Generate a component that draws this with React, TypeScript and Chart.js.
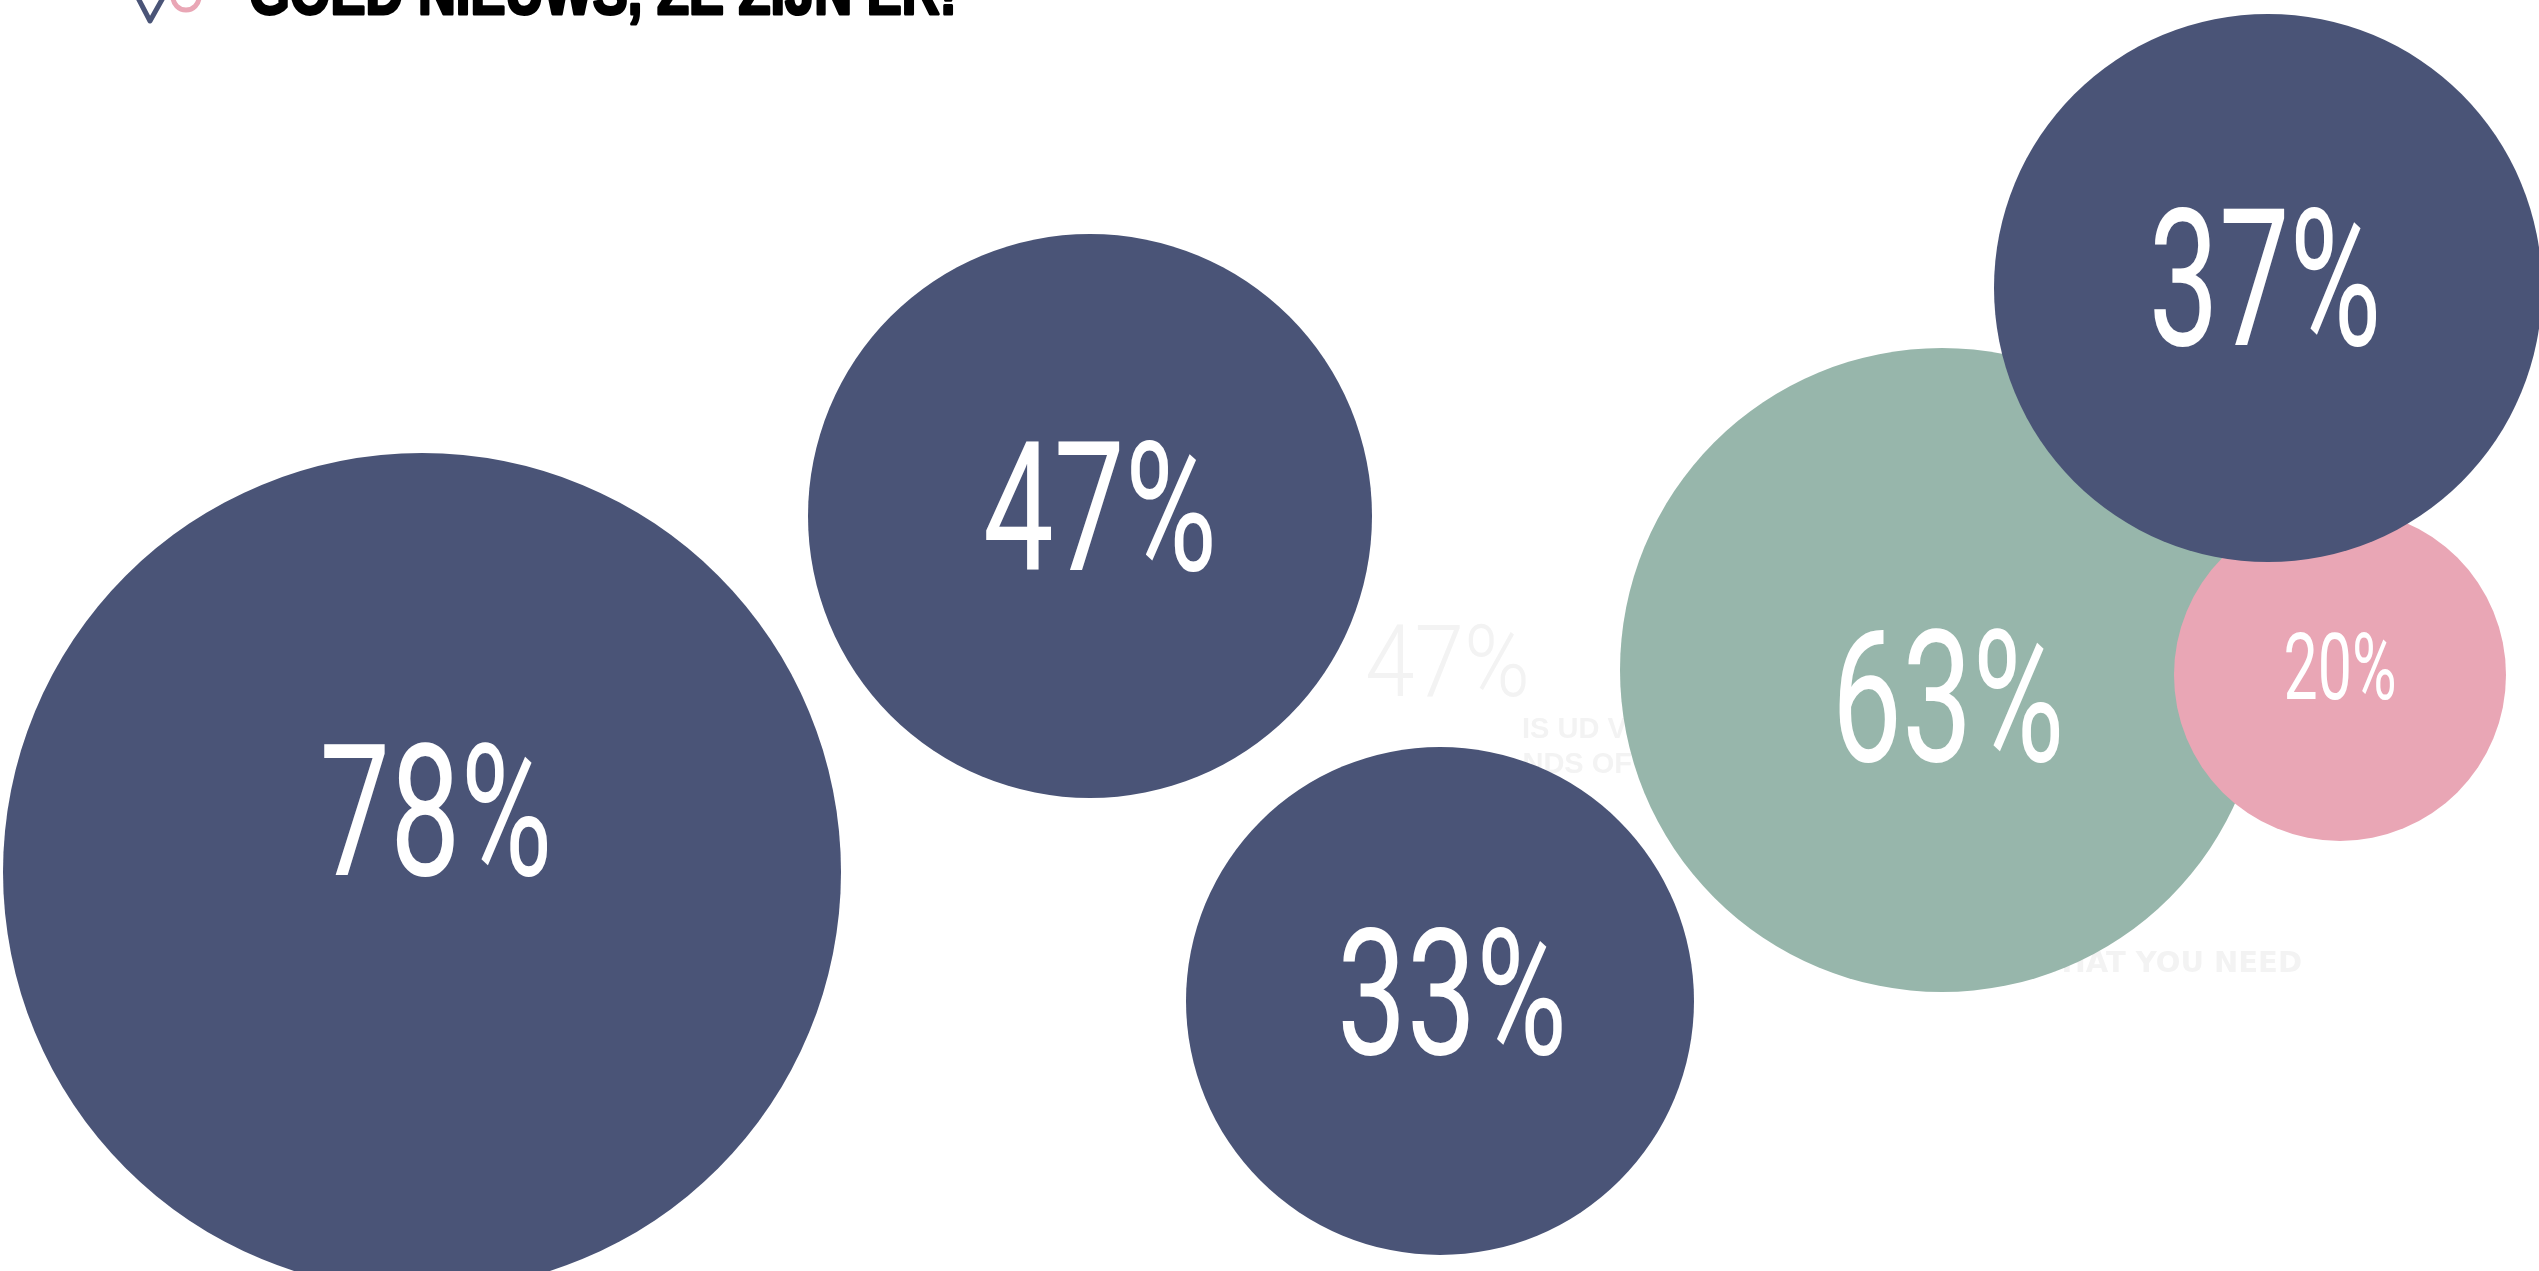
import React, { useEffect, useRef } from "react";
import { Chart, registerables } from "chart.js";

Chart.register(...registerables);

const W = 2539;
const H = 1271;

// data
const values = [78, 47, 33, 63, 20, 37];
const labels = ["78%", "47%", "33%", "63%", "20%", "37%"];
const xs = [422, 1090, 1440, 1942, 2340, 2268];
const ys = [872, 516, 1001, 670, 675, 288];
const radii = [419, 282, 254, 322, 166, 274];
const titleText = "GOED NIEUWS, ZE ZIJN ER!";
const ghostBig = "47%";
const ghostLines = ["IS UD V", "NDS OF", "WHAT YOU NEED"];

// styles
const NAVY = "#4a5477";
const GREEN = "#97b6ab";
const PINK = "#e9a6b5";
const colors = [NAVY, NAVY, NAVY, GREEN, PINK, NAVY];
const labelDx = [14, 10, 12, 6, 0, -3];
const labelDy = [-62, -10, -10, 25, -9, -11];
const labelCap = [130, 128, 126, 131, 66, 136];
const labelWidth = [233, 234, 230, 233, 113, 233];

const drawPlugin = {
  id: "bubbleDeco",
  beforeDatasetsDraw(chart: any) {
    const ctx = chart.ctx;
    ctx.save();
    ctx.fillStyle = "#f3f3f3";
    ctx.textBaseline = "alphabetic";
    ctx.textAlign = "left";
    ctx.font = "300 100px Roboto";
    const w = ctx.measureText(ghostBig).width;
    ctx.save();
    ctx.translate(1365, 696);
    ctx.scale(165 / w, 1);
    ctx.fillText(ghostBig, 0, 0);
    ctx.restore();
    ctx.font = "bold 29px 'Liberation Sans'";
    ctx.fillText(ghostLines[0], 1522, 738);
    ctx.textAlign = "right";
    ctx.fillText(ghostLines[1], 1632, 773);
    ctx.font = "bold 29px 'DejaVu Sans'";
    ctx.fillText(ghostLines[2], 2302, 972);
    ctx.restore();
  },
  afterDatasetsDraw(chart: any) {
    const ctx = chart.ctx;
    const meta = chart.getDatasetMeta(0);
    ctx.save();
    ctx.fillStyle = "#ffffff";
    ctx.textBaseline = "alphabetic";
    ctx.textAlign = "left";
    meta.data.forEach((el: any, i: number) => {
      const size = labelCap[i] / 0.711;
      ctx.font = `400 ${size}px Roboto`;
      const tw = ctx.measureText(labels[i]).width;
      const sx = labelWidth[i] / tw;
      const cx = el.x + labelDx[i];
      const cy = el.y + labelDy[i];
      ctx.save();
      ctx.translate(cx - labelWidth[i] / 2, cy + labelCap[i] / 2);
      ctx.scale(sx, 1);
      ctx.fillText(labels[i], 0, 0);
      ctx.restore();
    });
    ctx.restore();
  },
  afterDraw(chart: any) {
    const ctx = chart.ctx;
    ctx.save();
    ctx.fillStyle = "#000000";
    ctx.strokeStyle = "#000000";
    ctx.lineWidth = 3;
    ctx.lineJoin = "round";
    ctx.textBaseline = "alphabetic";
    ctx.textAlign = "left";
    ctx.font = "bold 64px 'Liberation Sans Narrow', 'Liberation Sans', Arial";
    const tw = ctx.measureText(titleText).width;
    ctx.save();
    ctx.translate(249, 14);
    ctx.scale(708 / tw, 1);
    ctx.fillText(titleText, 0, 0);
    ctx.strokeText(titleText, 0, 0);
    ctx.restore();
    ctx.lineCap = "round";
    ctx.lineJoin = "round";
    ctx.lineWidth = 5;
    ctx.strokeStyle = NAVY;
    ctx.beginPath();
    ctx.moveTo(137, -4);
    ctx.lineTo(150, 21);
    ctx.lineTo(164, -4);
    ctx.stroke();
    ctx.strokeStyle = PINK;
    ctx.beginPath();
    ctx.arc(186, -3, 13, 0, Math.PI, false);
    ctx.stroke();
    ctx.restore();
  },
};

export default function App() {
  const ref = useRef<HTMLCanvasElement | null>(null);
  useEffect(() => {
    document.body.style.margin = "0";
    const canvas = ref.current;
    if (!canvas) return;
    const chart = new Chart(canvas, {
      type: "bubble",
      data: {
        datasets: [
          {
            label: "Percentages",
            data: values.map((v, i) => ({ x: xs[i], y: ys[i], r: radii[i], v })),
            backgroundColor: colors,
            borderWidth: 0,
            hoverRadius: 0,
            hoverBorderWidth: 0,
            clip: false as any,
          },
        ],
      },
      options: {
        responsive: false,
        maintainAspectRatio: false,
        devicePixelRatio: 1,
        animation: false,
        events: [],
        layout: { padding: 0, autoPadding: false },
        scales: {
          x: { type: "linear", min: 0, max: W, display: false, offset: false },
          y: { type: "linear", min: 0, max: H, reverse: true, display: false, offset: false },
        },
        plugins: {
          legend: { display: false },
          tooltip: { enabled: false },
        },
      },
      plugins: [drawPlugin],
    });
    return () => chart.destroy();
  }, []);
  return (
    <div style={{ position: "fixed", left: 0, top: 0, width: W, height: H, background: "#ffffff" }}>
      <canvas ref={ref} width={W} height={H} style={{ width: W, height: H, display: "block" }} />
    </div>
  );
}
